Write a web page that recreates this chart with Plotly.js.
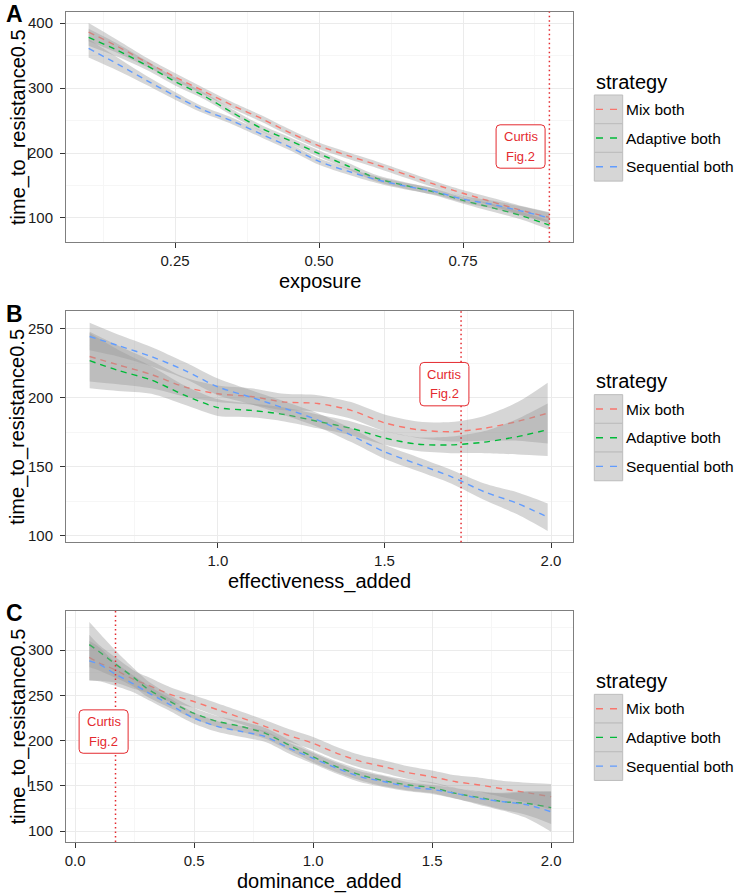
<!DOCTYPE html>
<html><head><meta charset="utf-8">
<script src="https://cdn.plot.ly/plotly-3.0.1.min.js"></script>
<style>html,body{margin:0;padding:0;background:#fff}</style>
</head><body>
<div id="chart" style="width:736px;height:893px"></div>
<script>
// ---------------- DATA ----------------
const seriesNames = ['Mix both', 'Adaptive both', 'Sequential both'];
const seriesColors = ['#F8766D', '#00BA38', '#619CFF'];
const panelLetters = ['A', 'B', 'C'];
const xTitles = ['exposure', 'effectiveness_added', 'dominance_added'];
const yTitle = 'time_to_resistance0.5';
const legendTitle = 'strategy';
const curtisX = [0.9, 1.73, 0.17];
const curtisLabelX = [0.85, 1.68, 0.12];
const curtisLabelY = [210, 210, 210];
const curtisLines = ['Curtis', 'Fig.2'];

// Panel A : exposure
const exposure = [0.10,0.15,0.20,0.25,0.30,0.35,0.40,0.45,0.50,0.55,0.60,0.65,0.70,0.75,0.80,0.85,0.90];
const aMix        = [386,364,340,317,295,273,253,231,211,196,182,167,152,138,125,112,101];
const aMixHw      = [14,10,7,6,5,5,5,5,5,5,5,5,5,5,6,7,8];
const aAdaptive   = [378,358,335,310,288,262,238,219,199,180,161,150,140,127,116,104,89];
const aAdaptiveHw = [13,10,7,6,5,5,5,5,5,5,5,5,5,5,6,6,7];
const aSequential   = [361,337,312,288,266,249,229,209,187,172,159,149,141,129,121,111,100];
const aSequentialHw = [14,10,7,6,5,5,5,5,5,5,5,5,5,5,6,7,8];

// Panel B : effectiveness_added
const effectiveness = [0.615,0.7,0.8,0.9,1.0,1.1,1.2,1.3,1.4,1.5,1.6,1.7,1.8,1.9,1.99];
const bMix        = [230,224,217,208,203,201,197,196,191,182,177,175.5,178,183,189];
const bMixHw      = [18,14,10,7,6,6,6,6,6,6,6,7,9,14,22];
const bAdaptive   = [227,220,213,202,193,191,188,183,178,171,166.5,166,168,172,177];
const bAdaptiveHw = [20,15,10,7,6,5,5,5,5,5,5,6,8,13,19];
const bSequential   = [244.5,238,230,220,208,200.5,192.5,184,173,161,152,143,132,123.5,113.6];
const bSequentialHw = [10,8,7,6,6,5,5,5,5,5,5,5,6,8,10];

// Panel C : dominance_added
const dominance = [0.06,0.1,0.17,0.25,0.3,0.4,0.5,0.6,0.7,0.8,0.9,1.0,1.1,1.2,1.3,1.4,1.5,1.6,1.7,1.8,1.9,2.0];
const cMix        = [292,286,278,267,262,251,243,234,225,215.5,205.5,197,186,177,171,164.6,160,154.6,151,146.5,142.4,138];
const cMixHw      = [25,20,14,10,9,8,7,7,7,7,7,7,7,7,7,7,7,7,8,9,11,14];
const cAdaptive   = [306,298.5,284.5,269,258,243,230,221,215.5,208,195,182,171,162,155.5,151,148,141.7,137,132.5,130.6,126];
const cAdaptiveHw = [25,21,15,10,9,7,6,6,6,6,6,6,6,6,6,6,6,6,7,9,13,18];
const cSequential   = [288,284.5,273.4,262,254,239.5,224.7,215.5,210,204.4,191.5,180.4,169.4,160,154.6,149,146,141.7,136,132.5,129,121.4];
const cSequentialHw = [22,19,13,9,8,7,6,6,6,6,6,6,6,6,6,5,5,6,7,10,15,22];

// ---------------- STYLE / LAYOUT ----------------
const FONT = '"Liberation Sans", Arial, Helvetica, sans-serif';
const W = 736, H = 893;
const LEFT = 66, RIGHT = 573;
const panelPx = [[11.7, 242.3], [311, 542.3], [610.7, 842]];
const xRanges = [[0.0607, 0.941], [0.544, 2.066], [-0.038, 2.092]];
const yRanges = [[62.6, 417.4], [95.4, 263], [88, 343.5]];
const xDticks = [0.25, 0.5, 0.5];
const xFormats = ['.2f', '.1f', '.1f'];
const yDticks = [100, 50, 50];
const RED = '#E42A2F';
const BAND = 'rgba(153,153,153,0.4)';
const DASH = '6px,5px';

const panels = [
  {x: exposure, mids: [aMix, aAdaptive, aSequential], hws: [aMixHw, aAdaptiveHw, aSequentialHw]},
  {x: effectiveness, mids: [bMix, bAdaptive, bSequential], hws: [bMixHw, bAdaptiveHw, bSequentialHw]},
  {x: dominance, mids: [cMix, cAdaptive, cSequential], hws: [cMixHw, cAdaptiveHw, cSequentialHw]}
];

const px2x = p => p / W;
const px2y = p => 1 - p / H;

const traces = [];
const layout = {
  width: W, height: H,
  margin: {l: 0, r: 0, t: 0, b: 0},
  paper_bgcolor: '#fff', plot_bgcolor: '#fff',
  showlegend: false,
  font: {family: FONT, color: '#000'},
  annotations: [], shapes: []
};

panels.forEach((p, i) => {
  const sfx = i === 0 ? '' : String(i + 1);
  const xa = 'x' + sfx, ya = 'y' + sfx;
  p.mids.forEach((mid, s) => {
    const hw = p.hws[s];
    const lo = mid.map((v, k) => v - hw[k]);
    const hi = mid.map((v, k) => v + hw[k]);
    const sm = {shape: 'spline', smoothing: 0.8};
    traces.push({type: 'scatter', mode: 'lines', x: p.x, y: lo, xaxis: xa, yaxis: ya,
      line: Object.assign({width: 0}, sm), hoverinfo: 'skip', showlegend: false});
    traces.push({type: 'scatter', mode: 'lines', x: p.x, y: hi, xaxis: xa, yaxis: ya,
      fill: 'tonexty', fillcolor: BAND, line: Object.assign({width: 0}, sm), hoverinfo: 'skip', showlegend: false});
    traces.push({type: 'scatter', mode: 'lines', x: p.x, y: mid, xaxis: xa, yaxis: ya,
      name: seriesNames[s], legendgroup: seriesNames[s],
      line: Object.assign({color: seriesColors[s], width: 1.4, dash: DASH}, sm), showlegend: false});
  });

  const top = panelPx[i][0], bot = panelPx[i][1];
  const common = {
    showline: true, mirror: true, linecolor: '#7F7F7F', linewidth: 1,
    ticks: 'outside', ticklen: 5, tickwidth: 1, tickcolor: '#333333',
    showgrid: true, gridcolor: '#EBEBEB', gridwidth: 1, zeroline: false,
    tickfont: {family: FONT, size: 15, color: '#1A1A1A'}, fixedrange: true
  };
  layout['xaxis' + sfx] = Object.assign({}, common, {
    domain: [px2x(LEFT), px2x(RIGHT)], range: xRanges[i], anchor: ya,
    tick0: 0, dtick: xDticks[i], tickformat: xFormats[i],
    minor: {showgrid: true, gridcolor: '#F6F6F6', tick0: 0, dtick: xDticks[i] / 2, ticks: ''}
  });
  layout['yaxis' + sfx] = Object.assign({}, common, {
    domain: [px2y(bot), px2y(top)], range: yRanges[i], anchor: xa,
    tick0: 0, dtick: yDticks[i], ticklabelstandoff: 4,
    minor: {showgrid: true, gridcolor: '#F6F6F6', tick0: 0, dtick: yDticks[i] / 2, ticks: ''}
  });

  // Curtis vertical dotted line
  layout.shapes.push({type: 'line', xref: xa, yref: ya + ' domain', x0: curtisX[i], x1: curtisX[i], y0: 0, y1: 1,
    line: {color: RED, width: 1.5, dash: '1.5px,3px'}, layer: 'above'});
  // rounded label box (pixel sized, anchored at data point)
  const bw = 24.5, bh = 21.7, r = 4;
  const path = `M ${-bw + r},${bh} L ${bw - r},${bh} Q ${bw},${bh} ${bw},${bh - r} L ${bw},${-bh + r} Q ${bw},${-bh} ${bw - r},${-bh} ` +
               `L ${-bw + r},${-bh} Q ${-bw},${-bh} ${-bw},${-bh + r} L ${-bw},${bh - r} Q ${-bw},${bh} ${-bw + r},${bh} Z`;
  layout.shapes.push({type: 'path', xref: xa, yref: ya, xsizemode: 'pixel', ysizemode: 'pixel',
    xanchor: curtisLabelX[i], yanchor: curtisLabelY[i], path: path,
    fillcolor: '#FFFFFF', line: {color: RED, width: 1}, layer: 'above'});
  curtisLines.forEach((t, k) => {
    layout.annotations.push({xref: xa, yref: ya, x: curtisLabelX[i], y: curtisLabelY[i], yshift: k === 0 ? 9.8 : -9.8,
      text: t, showarrow: false, xanchor: 'center', yanchor: 'middle',
      font: {family: FONT, size: 13, color: RED}});
  });

  // panel letter
  layout.annotations.push({xref: 'paper', yref: 'paper', x: px2x(14), y: px2y(top + 2.5), text: '<b>' + panelLetters[i] + '</b>',
    showarrow: false, xanchor: 'center', yanchor: 'middle', font: {family: FONT, size: 23, color: '#000'}});
  // axis titles
  layout.annotations.push({xref: 'paper', yref: 'paper', x: px2x((LEFT + RIGHT) / 2), y: px2y(bot + 39), text: xTitles[i],
    showarrow: false, xanchor: 'center', yanchor: 'middle', font: {family: FONT, size: 20, color: '#000'}});
  layout.annotations.push({xref: 'paper', yref: 'paper', x: px2x(18), y: px2y((top + bot) / 2), text: yTitle, textangle: -90,
    showarrow: false, xanchor: 'center', yanchor: 'middle', font: {family: FONT, size: 20, color: '#000'}});

  // legend (ggplot-style keys)
  const c = (top + bot) / 2;
  layout.annotations.push({xref: 'paper', yref: 'paper', x: px2x(594), y: px2y(c - 45.3), text: legendTitle,
    showarrow: false, xanchor: 'left', yanchor: 'middle', font: {family: FONT, size: 20, color: '#000'}});
  seriesNames.forEach((nm, s) => {
    const y0 = c - 32 + s * 28.7, y1 = y0 + 28.7, ym = (y0 + y1) / 2;
    layout.shapes.push({type: 'rect', xref: 'paper', yref: 'paper', x0: px2x(594.3), x1: px2x(622.7), y0: px2y(y1), y1: px2y(y0),
      fillcolor: '#D6D6D6', line: {color: '#BDBDBD', width: 1}});
    layout.shapes.push({type: 'line', xref: 'paper', yref: 'paper', x0: px2x(596), x1: px2x(617.5), y0: px2y(ym), y1: px2y(ym),
      line: {color: seriesColors[s], width: 1.4, dash: '7px,7px'}});
    layout.annotations.push({xref: 'paper', yref: 'paper', x: px2x(624.5), y: px2y(ym), text: nm,
      showarrow: false, xanchor: 'left', yanchor: 'middle', borderpad: 0, font: {family: FONT, size: 15.5, color: '#000'}});
  });
});

Plotly.newPlot('chart', traces, layout, {displayModeBar: false, staticPlot: true});
</script>
</body></html>
